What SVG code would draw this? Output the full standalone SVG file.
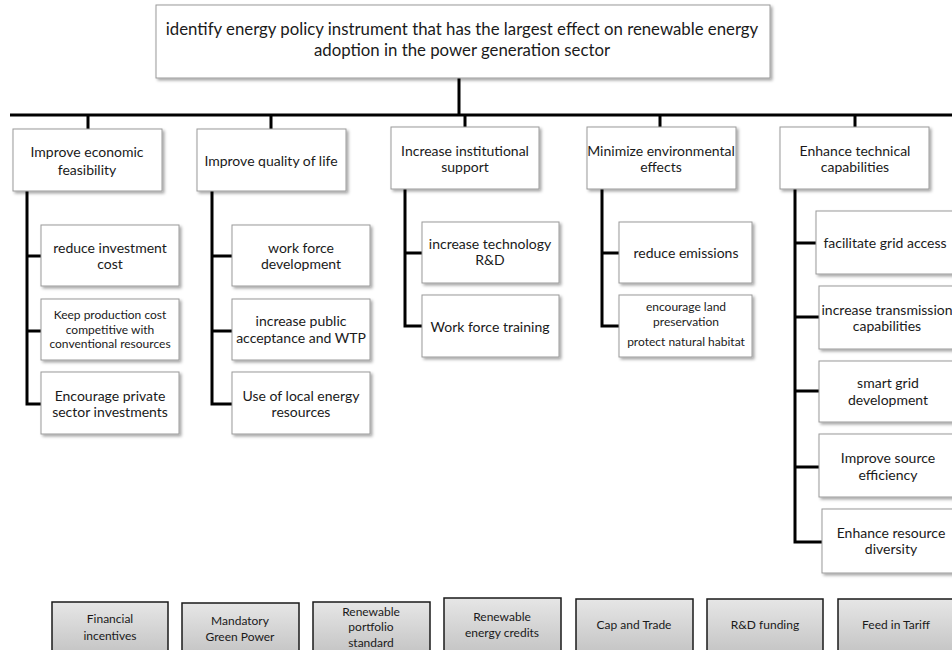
<svg xmlns="http://www.w3.org/2000/svg" width="952" height="650" viewBox="0 0 952 650">
<defs>
<filter id="sh" x="-5%" y="-5%" width="115%" height="130%">
<feDropShadow dx="2" dy="2" stdDeviation="1.5" flood-color="#000" flood-opacity="0.35"/>
</filter>
<linearGradient id="gr" x1="0" y1="0" x2="0" y2="1">
<stop offset="0" stop-color="#e6e6e6"/>
<stop offset="1" stop-color="#c4c4c4"/>
</linearGradient>
</defs>
<style>
.b{fill:#fff;stroke:#9a9a9a;stroke-width:1;filter:url(#sh)}
.g{fill:url(#gr);stroke:#1a1a1a;stroke-width:1.5}
text{font-family:Lato,"Open Sans","Liberation Sans",sans-serif;fill:#1a1a1a;text-anchor:middle}
.t{font-size:16.8px}
.m{font-size:14px}
.s{font-size:12px}
.c{fill:none;stroke:#000;stroke-width:3}
</style>
<rect width="952" height="650" fill="#fff"/>
<g id="connectors">
<path class="c" d="M459 78V115M10 115H952M88 115V129M271 115V129M465 115V127M660 115V127M855 115V127"/>
<path class="c" d="M27 191V404H41M27 256H41M27 331H41"/>
<path class="c" d="M212 191V404H232M212 256H232M212 331H232"/>
<path class="c" d="M405 189V326H422M405 253H422"/>
<path class="c" d="M602 189V326H619M602 253H619"/>
<path class="c" d="M795 189V542H822M795 243H816M795 317H819M795 391H819M795 467H819"/>
</g>
<g id="root"><rect class="b" x="156" y="5" width="614" height="73"/>
<text class="t" x="462" y="35">identify energy policy instrument that has the largest effect on renewable energy</text>
<text class="t" x="462" y="56">adoption in the power generation sector</text></g>

<g id="n1"><rect class="b" x="13" y="129" width="149" height="62"/><text class="m" x="87" y="157">Improve economic</text><text class="m" x="87" y="175">feasibility</text></g>
<g id="n2"><rect class="b" x="197" y="129" width="149" height="62"/><text class="m" x="271" y="166">Improve quality of life</text></g>
<g id="n3"><rect class="b" x="391" y="127" width="148" height="62"/><text class="m" x="465" y="156">Increase institutional</text><text class="m" x="465" y="172">support</text></g>
<g id="n4"><rect class="b" x="587" y="127" width="149" height="62"/><text class="m" x="661" y="156">Minimize environmental</text><text class="m" x="661" y="172">effects</text></g>
<g id="n5"><rect class="b" x="780" y="127" width="149" height="62"/><text class="m" x="855" y="156">Enhance technical</text><text class="m" x="855" y="172">capabilities</text></g>

<g id="n1a"><rect class="b" x="41" y="225" width="138" height="61"/><text class="m" x="110" y="253">reduce investment</text><text class="m" x="110" y="269">cost</text></g>
<g id="n1b"><rect class="b" x="41" y="299" width="138" height="61"/><text class="s" x="110" y="319">Keep production cost</text><text class="s" x="110" y="334">competitive with</text><text class="s" x="110" y="348">conventional resources</text></g>
<g id="n1c"><rect class="b" x="41" y="372" width="138" height="62"/><text class="m" x="110" y="401">Encourage private</text><text class="m" x="110" y="417">sector investments</text></g>

<g id="n2a"><rect class="b" x="232" y="225" width="138" height="61"/><text class="m" x="301" y="253">work force</text><text class="m" x="301" y="269">development</text></g>
<g id="n2b"><rect class="b" x="232" y="299" width="138" height="61"/><text class="m" x="301" y="326">increase public</text><text class="m" x="301" y="343">acceptance and WTP</text></g>
<g id="n2c"><rect class="b" x="232" y="372" width="138" height="62"/><text class="m" x="301" y="401">Use of local energy</text><text class="m" x="301" y="417">resources</text></g>

<g id="n3a"><rect class="b" x="422" y="222" width="137" height="61"/><text class="m" x="490" y="249">increase technology</text><text class="m" x="490" y="265">R&amp;D</text></g>
<g id="n3b"><rect class="b" x="422" y="295" width="137" height="62"/><text class="m" x="490" y="332">Work force training</text></g>

<g id="n4a"><rect class="b" x="619" y="222" width="133" height="61"/><text class="m" x="686" y="258">reduce emissions</text></g>
<g id="n4b"><rect class="b" x="619" y="295" width="133" height="62"/><text class="s" x="686" y="311">encourage land</text><text class="s" x="686" y="326">preservation</text><text class="s" x="686" y="346">protect natural habitat</text></g>

<g id="n5a"><rect class="b" x="816" y="211" width="140" height="63"/><text class="m" x="885" y="248">facilitate  grid access</text></g>
<g id="n5b"><rect class="b" x="819" y="286" width="140" height="63"/><text class="m" x="887" y="315">increase transmission</text><text class="m" x="887" y="331">capabilities</text></g>
<g id="n5c"><rect class="b" x="819" y="361" width="140" height="61"/><text class="m" x="888" y="388">smart grid</text><text class="m" x="888" y="405">development</text></g>
<g id="n5d"><rect class="b" x="819" y="434" width="140" height="63"/><text class="m" x="888" y="463">Improve source</text><text class="m" x="888" y="480">efficiency</text></g>
<g id="n5e"><rect class="b" x="822" y="509" width="140" height="64"/><text class="m" x="891" y="538">Enhance resource</text><text class="m" x="891" y="554">diversity</text></g>

<g id="p1"><rect class="g" x="52" y="602" width="116" height="52"/><text class="s" x="110" y="623">Financial</text><text class="s" x="110" y="640">incentives</text></g>
<g id="p2"><rect class="g" x="182" y="603" width="117" height="52"/><text class="s" x="240" y="625">Mandatory</text><text class="s" x="240" y="641">Green Power</text></g>
<g id="p3"><rect class="g" x="313" y="602" width="117" height="52"/><text class="s" x="371" y="616">Renewable</text><text class="s" x="371" y="631">portfolio</text><text class="s" x="371" y="647">standard</text></g>
<g id="p4"><rect class="g" x="444" y="598" width="117" height="56"/><text class="s" x="502" y="621">Renewable</text><text class="s" x="502" y="637">energy credits</text></g>
<g id="p5"><rect class="g" x="576" y="599" width="117" height="55"/><text class="s" x="634" y="629">Cap and Trade</text></g>
<g id="p6"><rect class="g" x="707" y="599" width="116" height="55"/><text class="s" x="765" y="629">R&amp;D funding</text></g>
<g id="p7"><rect class="g" x="838" y="599" width="116" height="55"/><text class="s" x="896" y="629">Feed in Tariff</text></g>
</svg>
